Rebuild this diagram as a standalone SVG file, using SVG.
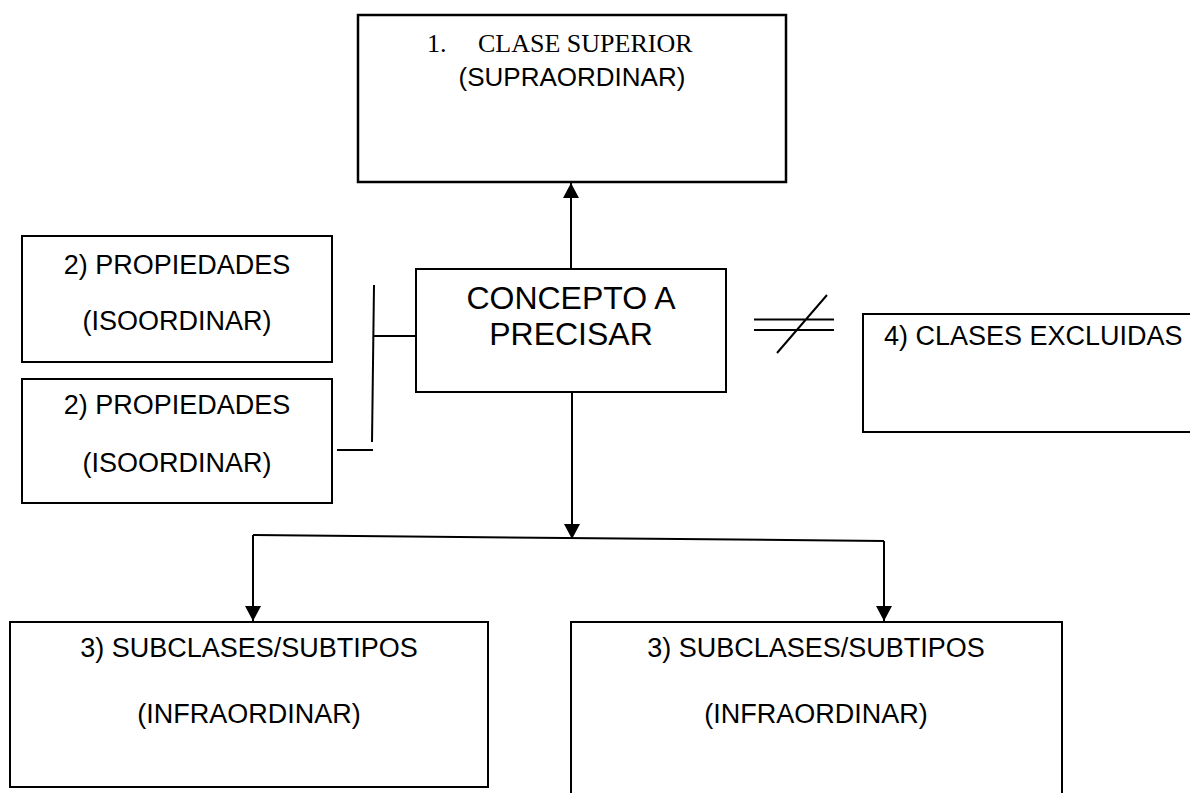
<svg xmlns="http://www.w3.org/2000/svg" width="1190" height="793" viewBox="0 0 1190 793">
  <style>
    .box { fill: #ffffff; stroke: #000000; stroke-width: 2; }
    .line { fill: none; stroke: #000000; stroke-width: 2; }
    .sans { font-family: "Liberation Sans", Arial, sans-serif; font-size: 27px; fill: #000000; }
    .sans26 { font-family: "Liberation Sans", Arial, sans-serif; font-size: 26px; fill: #000000; }
    .serif { font-family: "Liberation Serif", "Times New Roman", serif; font-size: 26px; fill: #000000; }
    .big { font-family: "Liberation Sans", Arial, sans-serif; font-size: 32px; fill: #000000; }
    .mid { text-anchor: middle; }
  </style>
  <defs>
    <marker id="arrow" markerUnits="userSpaceOnUse" markerWidth="15" markerHeight="16" viewBox="0 0 15 16" refX="15" refY="8" orient="auto">
      <path d="M0,0 L15,8 L0,16 Z" fill="#000000"/>
    </marker>
  </defs>
  <rect width="1190" height="793" fill="#ffffff"/>

  <g id="connectors">
    <path class="line" d="M571,269 L571,183" marker-end="url(#arrow)"/>
    <path class="line" d="M572,392 L572,539" marker-end="url(#arrow)"/>
    <path class="line" d="M253,535 L884,541"/>
    <path class="line" d="M253,535 L253,621" marker-end="url(#arrow)"/>
    <path class="line" d="M884,541 L884,621" marker-end="url(#arrow)"/>
    <path class="line" d="M374,285 L372,442"/>
    <path class="line" d="M374,336 L416,336"/>
    <path class="line" d="M337,450 L373,450"/>
    <path class="line" d="M754,319.5 L834,319.5 M754,330 L834,330 M777,353 L827,295"/>
  </g>

  <g id="clase-superior">
    <rect class="box" x="358" y="15" width="428" height="167" style="stroke-width:2.5"/>
    <text class="serif" x="427" y="52">1.</text>
    <text class="serif" x="478" y="52">CLASE SUPERIOR</text>
    <text class="sans26 mid" x="572" y="86">(SUPRAORDINAR)</text>
  </g>

  <g id="concepto">
    <rect class="box" x="416" y="269" width="310" height="123"/>
    <text class="big mid" x="571" y="309">CONCEPTO A</text>
    <text class="big mid" x="571" y="345">PRECISAR</text>
  </g>

  <g id="propiedades-1">
    <rect class="box" x="22" y="236" width="310" height="126"/>
    <text class="sans mid" x="177" y="274">2) PROPIEDADES</text>
    <text class="sans mid" x="177" y="330">(ISOORDINAR)</text>
  </g>

  <g id="propiedades-2">
    <rect class="box" x="22" y="379" width="310" height="124"/>
    <text class="sans mid" x="177" y="414">2) PROPIEDADES</text>
    <text class="sans mid" x="177" y="472">(ISOORDINAR)</text>
  </g>

  <g id="clases-excluidas">
    <rect class="box" x="863" y="314" width="340" height="118"/>
    <text class="sans" x="884" y="345">4) CLASES EXCLUIDAS</text>
  </g>

  <g id="subclases-1">
    <rect class="box" x="10" y="622" width="478" height="165"/>
    <text class="sans mid" x="249" y="657">3) SUBCLASES/SUBTIPOS</text>
    <text class="sans mid" x="249" y="723">(INFRAORDINAR)</text>
  </g>

  <g id="subclases-2">
    <rect class="box" x="571" y="622" width="491" height="190"/>
    <text class="sans mid" x="816" y="657">3) SUBCLASES/SUBTIPOS</text>
    <text class="sans mid" x="816" y="723">(INFRAORDINAR)</text>
  </g>
</svg>
